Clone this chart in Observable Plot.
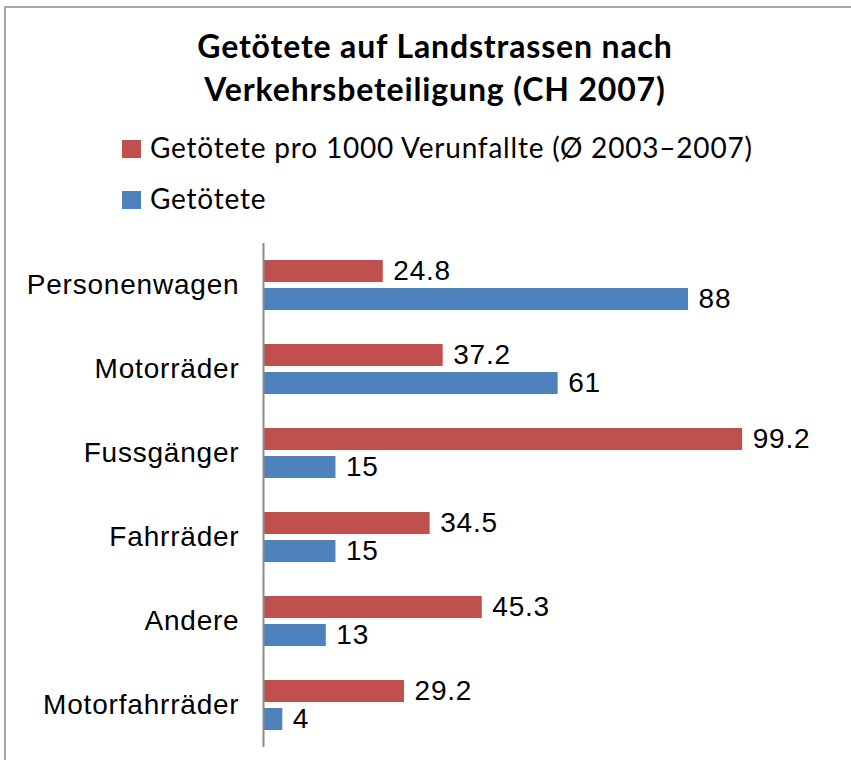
<!DOCTYPE html>
<html>
<head>
<meta charset="utf-8">
<script src="https://cdn.jsdelivr.net/npm/d3@7"></script>
<script src="https://cdn.jsdelivr.net/npm/@observablehq/plot@0.6"></script>
<style>
  html, body { margin: 0; padding: 0; background: #fff; }
  body { position: relative; width: 851px; height: 760px; overflow: hidden; }
  #frame { position: absolute; left: 4px; top: 6px; width: 900px; height: 800px;
           border-left: 2px solid #a8a8a8; border-top: 2px solid #a8a8a8; }
  #title { position: absolute; left: 0; top: 24px; width: 870px; text-align: center;
           font-family: Lato, "Open Sans", sans-serif; font-weight: bold; font-size: 32px;
           letter-spacing: 0.85px; line-height: 43px; color: #000; }
  .leg { position: absolute; left: 0; font-family: Lato, "Open Sans", sans-serif; font-size: 28px;
         letter-spacing: 0.8px; line-height: 28px; color: #000; white-space: nowrap; }
  .sw { position: absolute; left: 122px; width: 19px; height: 18px; }
  .lt { position: absolute; left: 150px; }
  #chart { position: absolute; left: 0; top: 230px; }
</style>
</head>
<body>
<div id="frame"></div>
<div id="title">Getötete auf Landstrassen nach<br>Verkehrsbeteiligung (CH 2007)</div>
<div id="legend"></div>
<div id="chart"></div>
<script>
const categories = ["Personenwagen", "Motorräder", "Fussgänger", "Fahrräder", "Andere", "Motorfahrräder"];
const ratePer1000 = [24.8, 37.2, 99.2, 34.5, 45.3, 29.2];
const killed = [88, 61, 15, 15, 13, 4];
const seriesNames = ["Getötete pro 1000 Verunfallte (Ø 2003–2007)", "Getötete"];
const seriesColors = ["#C0504D", "#4F81BD"];

// legend (HTML, above the SVG)
const legend = document.getElementById("legend");
const legTops = [133, 184];
seriesNames.forEach((name, i) => {
  const sw = document.createElement("div");
  sw.className = "sw";
  sw.style.top = (legTops[i] + 7) + "px";
  sw.style.background = seriesColors[i];
  legend.appendChild(sw);
  const t = document.createElement("div");
  t.className = "leg lt";
  t.style.top = legTops[i] + "px";
  t.textContent = name;
  legend.appendChild(t);
});

const rateData = categories.map((c, i) => ({category: c, value: ratePer1000[i]}));
const killedData = categories.map((c, i) => ({category: c, value: killed[i]}));

const chart = Plot.plot({
  width: 851,
  height: 530,
  marginLeft: 263,
  marginRight: 105,
  marginTop: 13,
  marginBottom: 13,
  style: {fontFamily: "'Liberation Sans', Arial, sans-serif", fontSize: "28px", letterSpacing: "0.8px", color: "#000", background: "transparent"},
  x: {domain: [0, 100], axis: null},
  y: {domain: categories, padding: 0, label: null},
  marks: [
    Plot.barX(rateData, {x: "value", y: "category", fill: seriesColors[0], insetTop: 17, insetBottom: 45}),
    Plot.barX(killedData, {x: "value", y: "category", fill: seriesColors[1], insetTop: 45, insetBottom: 17}),
    Plot.text(rateData, {x: "value", y: "category", text: d => d3.format(".1f")(d.value), textAnchor: "start", dx: 10, dy: -14, fill: "#000", fontSize: 28}),
    Plot.text(killedData, {x: "value", y: "category", text: d => String(d.value), textAnchor: "start", dx: 10, dy: 14, fill: "#000", fontSize: 28}),
    Plot.axisY({tickSize: 0, tickPadding: 24, fontSize: 28, label: null}),
    Plot.ruleX([0], {stroke: "#8c8c8c", strokeWidth: 2})
  ]
});
document.getElementById("chart").appendChild(chart);
</script>
</body>
</html>
